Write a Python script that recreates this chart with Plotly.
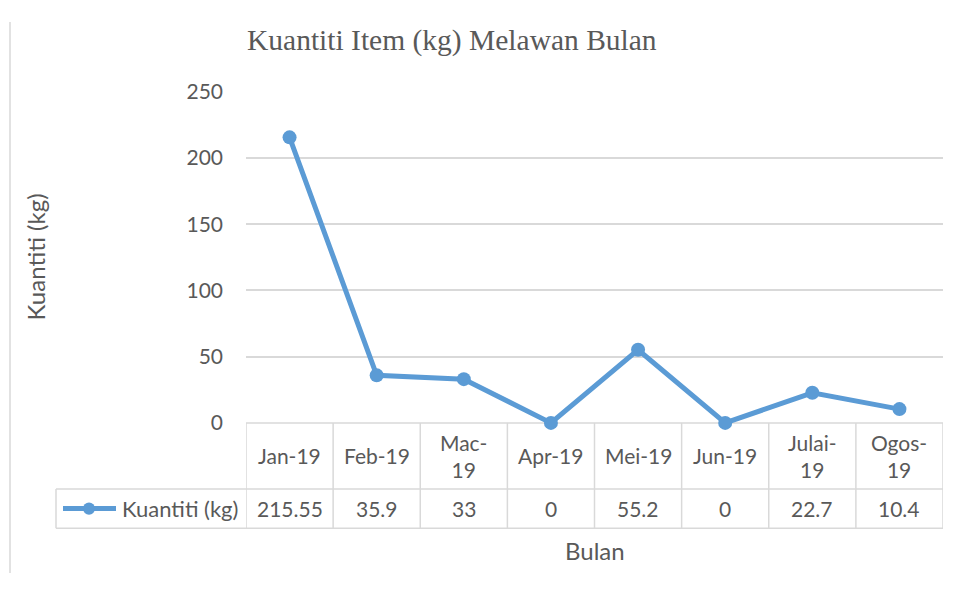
import plotly.graph_objects as go

months = ["Jan-19", "Feb-19", "Mac-19", "Apr-19", "Mei-19", "Jun-19", "Julai-19", "Ogos-19"]
header_labels = ["Jan-19", "Feb-19", "Mac-<br>19", "Apr-19", "Mei-19", "Jun-19", "Julai-<br>19", "Ogos-<br>19"]
quantity = [215.55, 35.9, 33, 0, 55.2, 0, 22.7, 10.4]
value_labels = ["215.55", "35.9", "33", "0", "55.2", "0", "22.7", "10.4"]
series_name = "Kuantiti (kg)"
y_ticks = [0, 50, 100, 150, 200, 250]

# page has an 8px body margin; size the figure to fit the 961x592 window
OFF = 8
W, H = 961 - 2 * OFF, 592 - 2 * OFF
BLUE = "#5B9BD5"
GRID = "#D9D9D9"
TXT = "#595959"
FONT = "Lato"

# observed vertical mapping of the photographed page
Y_TOP, Y_SCALE = 22.2, 0.954


def px(x):
    return (x - OFF) / W


def py(y):
    return 1 - ((y - Y_TOP) / Y_SCALE) / H


x_left, x_right = 246, 943
y_top, y_zero = 91.7, 422
row1_bot, row2_bot = 488, 527
leg_left = 56

fig = go.Figure()
fig.add_trace(go.Scatter(
    x=list(range(len(months))), y=quantity, mode="lines+markers",
    name=series_name,
    line=dict(color=BLUE, width=5),
    marker=dict(color=BLUE, size=14),
    showlegend=False,
    cliponaxis=False,
))

shapes = []
line_style = dict(color=GRID, width=1.5)
# table horizontal lines
shapes.append(dict(type="line", xref="paper", yref="paper", x0=px(x_left), x1=px(x_right),
                   y0=py(y_zero), y1=py(y_zero), line=line_style, layer="below"))
for yy in (row1_bot, row2_bot):
    shapes.append(dict(type="line", xref="paper", yref="paper", x0=px(leg_left), x1=px(x_right),
                       y0=py(yy), y1=py(yy), line=line_style))
# table vertical lines (column boundaries through the x scale)
for i in range(len(months) + 1):
    shapes.append(dict(type="line", xref="x", yref="paper", x0=i - 0.5, x1=i - 0.5,
                       y0=py(y_zero), y1=py(row2_bot), line=line_style))
shapes.append(dict(type="line", xref="paper", yref="paper", x0=px(leg_left), x1=px(leg_left),
                   y0=py(row1_bot), y1=py(row2_bot), line=line_style))
# legend key
ly = (row1_bot + row2_bot) / 2
shapes.append(dict(type="line", xref="paper", yref="paper", x0=px(63), x1=px(116),
                   y0=py(ly), y1=py(ly), line=dict(color=BLUE, width=5)))
shapes.append(dict(type="circle", xref="paper", yref="paper", x0=px(83), x1=px(95),
                   y0=py(ly + 6), y1=py(ly - 6), fillcolor=BLUE, line=dict(color=BLUE, width=0)))
# outer chart border (left edge)
shapes.append(dict(type="line", xref="paper", yref="paper", x0=px(10), x1=px(10),
                   y0=0, y1=1, line=dict(color=GRID, width=1.5)))

annotations = []
for i, lab in enumerate(header_labels):
    annotations.append(dict(x=i, y=py((y_zero + row1_bot) / 2), xref="x", yref="paper",
                            text=lab, showarrow=False, font=dict(family=FONT, size=21, color=TXT),
                            xanchor="center", yanchor="middle"))
for i, lab in enumerate(value_labels):
    annotations.append(dict(x=i, y=py(ly), xref="x", yref="paper",
                            text=lab, showarrow=False, font=dict(family=FONT, size=21, color=TXT),
                            xanchor="center", yanchor="middle"))
annotations.append(dict(x=px(120), y=py(ly), xref="paper", yref="paper", text=series_name,
                        showarrow=False, font=dict(family=FONT, size=22, color=TXT),
                        xanchor="left", yanchor="middle"))
annotations.append(dict(x=px((x_left + x_right) / 2), y=py(549), xref="paper", yref="paper",
                        text="Bulan", showarrow=False, font=dict(family=FONT, size=24, color=TXT),
                        xanchor="center", yanchor="middle"))
annotations.append(dict(x=px(35), y=py(257), xref="paper", yref="paper",
                        text="Kuantiti (kg)", textangle=-90, showarrow=False,
                        font=dict(family=FONT, size=24, color=TXT),
                        xanchor="center", yanchor="middle"))
annotations.append(dict(x=px(452), y=py(41), xref="paper", yref="paper",
                        text="Kuantiti Item (kg) Melawan Bulan", showarrow=False,
                        font=dict(family="Liberation Serif", size=29.5, color=TXT),
                        xanchor="center", yanchor="middle"))

fig.update_layout(
    width=W, height=H, margin=dict(l=0, r=0, t=0, b=0),
    paper_bgcolor="white", plot_bgcolor="white",
    shapes=shapes, annotations=annotations,
    xaxis=dict(domain=[px(x_left), px(x_right)], range=[-0.5, len(months) - 0.5],
               showticklabels=False, showgrid=False, zeroline=False, ticks="",
               type="linear", fixedrange=True),
    yaxis=dict(domain=[py(y_zero), py(y_top)], range=[0, 250], tickvals=y_ticks,
               showgrid=True, gridcolor=GRID, gridwidth=1.5, zeroline=False,
               ticks="", ticklabelstandoff=22,
               tickfont=dict(family=FONT, size=21, color=TXT)),
)

fig.write_html("out.html")
